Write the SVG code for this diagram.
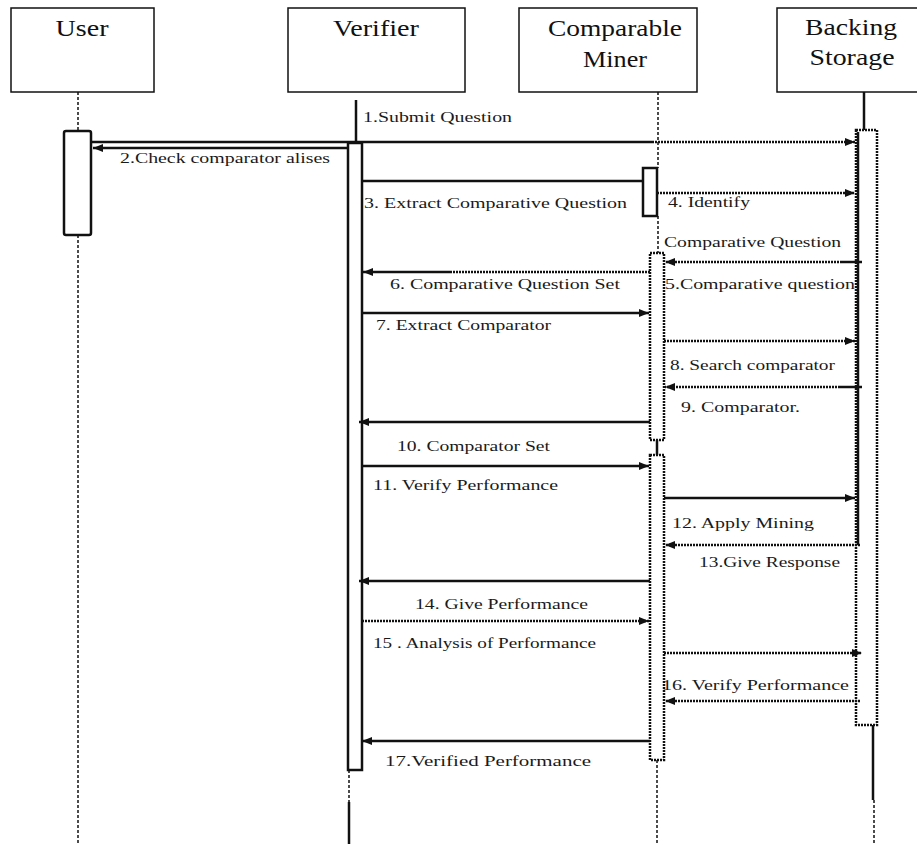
<svg xmlns="http://www.w3.org/2000/svg" width="917" height="844" viewBox="0 0 917 844">
<style>
.hd{font-family:"Liberation Serif","Times New Roman",serif;font-size:24px;fill:#111}
.lb{font-family:"Liberation Serif","Times New Roman",serif;font-size:15.5px;fill:#1a1a1a}
.box{fill:#fff;stroke:#111;stroke-width:1.5}
.ll{stroke:#111;stroke-width:1.5;stroke-dasharray:3 2;fill:none}
.sl{stroke:#111;stroke-width:2.5;fill:none}
.act{fill:#fff;stroke:#111;stroke-width:2.5}
.actd{fill:#fff;stroke:#111;stroke-width:2.5;stroke-dasharray:2 1}
.m{stroke:#111;stroke-width:2.5;fill:none}
.md{stroke:#111;stroke-width:2.5;fill:none;stroke-dasharray:2 1}
</style>
<defs>
<marker id="ah" viewBox="0 0 10 8" refX="10" refY="4" markerWidth="10" markerHeight="8" markerUnits="userSpaceOnUse" orient="auto">
<path d="M0,0 L10,4 L0,8 Z" fill="#111"/>
</marker>
</defs>
<rect width="917" height="844" fill="#fff"/>

<g id="user">
<rect class="box" x="11" y="8" width="143" height="84"/>
<text class="hd" x="82" y="36" text-anchor="middle" textLength="53" lengthAdjust="spacingAndGlyphs">User</text>
<line class="ll" x1="78" y1="92" x2="78" y2="131"/>
<line class="ll" x1="78" y1="235" x2="78" y2="844"/>
<rect class="act" x="64" y="131" width="27" height="104" rx="2"/>
</g>

<g id="verifier">
<rect class="box" x="288" y="8" width="177" height="84"/>
<text class="hd" x="376" y="36" text-anchor="middle" textLength="86" lengthAdjust="spacingAndGlyphs">Verifier</text>
<line class="sl" x1="356" y1="100" x2="356" y2="143"/>
<rect class="act" x="348" y="143" width="14" height="627"/>
<line class="ll" x1="349" y1="770" x2="349" y2="802"/>
<line class="sl" x1="349" y1="802" x2="349" y2="844"/>
</g>

<g id="comparable-miner">
<rect class="box" x="519" y="8" width="178" height="84"/>
<text class="hd" x="615" y="36" text-anchor="middle" textLength="134" lengthAdjust="spacingAndGlyphs">Comparable</text>
<text class="hd" x="615" y="67" text-anchor="middle" textLength="64" lengthAdjust="spacingAndGlyphs">Miner</text>
<line class="ll" x1="658" y1="92" x2="658" y2="168"/>
<rect class="act" x="643" y="168" width="14" height="48"/>
<line class="ll" x1="658" y1="216" x2="658" y2="253"/>
<rect class="actd" x="650" y="253" width="14" height="187"/>
<line class="sl" x1="657" y1="440" x2="657" y2="455"/>
<rect class="actd" x="650" y="455" width="14" height="305"/>
<line class="ll" x1="657" y1="760" x2="657" y2="844"/>
</g>

<g id="backing-storage">
<rect class="box" x="777" y="8" width="150" height="84"/>
<text class="hd" x="851" y="35" text-anchor="middle" textLength="92" lengthAdjust="spacingAndGlyphs">Backing</text>
<text class="hd" x="852" y="65" text-anchor="middle" textLength="85" lengthAdjust="spacingAndGlyphs">Storage</text>
<line class="sl" x1="864" y1="92" x2="864" y2="130"/>
<rect class="actd" x="856" y="130" width="21" height="595"/>
<line class="sl" x1="858" y1="132" x2="858" y2="545"/>
<line class="sl" x1="873" y1="725" x2="873" y2="800"/>
<line class="ll" x1="874" y1="800" x2="874" y2="844"/>
</g>

<g id="connectors">
<line class="m" x1="92" y1="142" x2="652" y2="142"/>
<line class="md" x1="652" y1="142" x2="855" y2="142" marker-end="url(#ah)"/>
<line class="m" x1="347" y1="148" x2="93" y2="148" marker-end="url(#ah)"/>
<line class="m" x1="362" y1="181" x2="643" y2="181"/>
<line class="md" x1="657" y1="193" x2="855" y2="193" marker-end="url(#ah)"/>
<line class="m" x1="862" y1="262" x2="842" y2="262"/>
<line class="md" x1="842" y1="262" x2="665" y2="262" marker-end="url(#ah)"/>
<line class="md" x1="650" y1="272" x2="450" y2="272"/>
<line class="m" x1="450" y1="272" x2="363" y2="272" marker-end="url(#ah)"/>
<line class="m" x1="362" y1="313" x2="649" y2="313" marker-end="url(#ah)"/>
<line class="md" x1="664" y1="341" x2="855" y2="341" marker-end="url(#ah)"/>
<line class="m" x1="862" y1="387" x2="840" y2="387"/>
<line class="md" x1="840" y1="387" x2="665" y2="387" marker-end="url(#ah)"/>
<line class="m" x1="650" y1="422" x2="359" y2="422" marker-end="url(#ah)"/>
<line class="m" x1="362" y1="466" x2="649" y2="466" marker-end="url(#ah)"/>
<line class="m" x1="664" y1="498" x2="855" y2="498" marker-end="url(#ah)"/>
<line class="md" x1="860" y1="545" x2="665" y2="545" marker-end="url(#ah)"/>
<line class="m" x1="650" y1="581" x2="359" y2="581" marker-end="url(#ah)"/>
<line class="md" x1="362" y1="621" x2="649" y2="621" marker-end="url(#ah)"/>
<line class="md" x1="664" y1="653" x2="862" y2="653" marker-end="url(#ah)"/>
<line class="md" x1="860" y1="701" x2="665" y2="701" marker-end="url(#ah)"/>
<line class="m" x1="650" y1="741" x2="362" y2="741" marker-end="url(#ah)"/>
</g>

<g id="labels">
<text class="lb" x="363" y="122" textLength="149" lengthAdjust="spacingAndGlyphs">1.Submit Question</text>
<text class="lb" x="120" y="163" textLength="210" lengthAdjust="spacingAndGlyphs">2.Check comparator alises</text>
<text class="lb" x="364" y="208" textLength="263" lengthAdjust="spacingAndGlyphs">3. Extract Comparative Question</text>
<text class="lb" x="668" y="207" textLength="82" lengthAdjust="spacingAndGlyphs">4. Identify</text>
<text class="lb" x="664" y="247" textLength="177" lengthAdjust="spacingAndGlyphs">Comparative Question</text>
<text class="lb" x="665" y="289" textLength="190" lengthAdjust="spacingAndGlyphs">5.Comparative question</text>
<text class="lb" x="390" y="289" textLength="230" lengthAdjust="spacingAndGlyphs">6. Comparative Question Set</text>
<text class="lb" x="376" y="330" textLength="175" lengthAdjust="spacingAndGlyphs">7. Extract Comparator</text>
<text class="lb" x="670" y="370" textLength="165" lengthAdjust="spacingAndGlyphs">8. Search comparator</text>
<text class="lb" x="681" y="412" textLength="119" lengthAdjust="spacingAndGlyphs">9. Comparator.</text>
<text class="lb" x="397" y="451" textLength="153" lengthAdjust="spacingAndGlyphs">10. Comparator Set</text>
<text class="lb" x="373" y="490" textLength="185" lengthAdjust="spacingAndGlyphs">11. Verify Performance</text>
<text class="lb" x="672" y="528" textLength="142" lengthAdjust="spacingAndGlyphs">12. Apply Mining</text>
<text class="lb" x="699" y="567" textLength="141" lengthAdjust="spacingAndGlyphs">13.Give Response</text>
<text class="lb" x="415" y="609" textLength="173" lengthAdjust="spacingAndGlyphs">14. Give Performance</text>
<text class="lb" x="373" y="648" textLength="223" lengthAdjust="spacingAndGlyphs">15 . Analysis of Performance</text>
<text class="lb" x="662" y="690" textLength="187" lengthAdjust="spacingAndGlyphs">16. Verify Performance</text>
<text class="lb" x="385" y="766" textLength="206" lengthAdjust="spacingAndGlyphs">17.Verified Performance</text>
</g>
</svg>
